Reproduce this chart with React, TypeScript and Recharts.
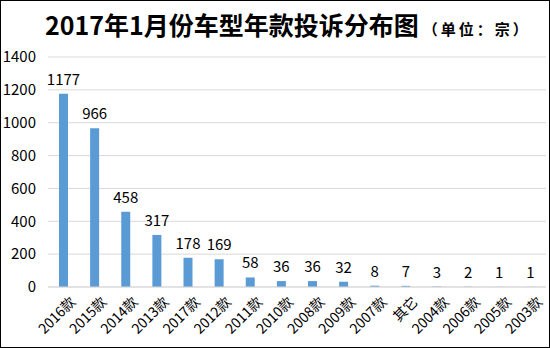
import { BarChart, Bar, XAxis, YAxis, CartesianGrid, LabelList } from 'recharts';

const categories = [
  '2016款', '2015款', '2014款', '2013款', '2017款', '2012款', '2011款', '2010款',
  '2008款', '2009款', '2007款', '其它', '2004款', '2006款', '2005款', '2003款',
];
const complaints = [1177, 966, 458, 317, 178, 169, 58, 36, 36, 32, 8, 7, 3, 2, 1, 1];
const yTicks = [0, 200, 400, 600, 800, 1000, 1200, 1400];

const data = categories.map((name, i) => ({ name, value: complaints[i] }));

const FONT = '"Noto Sans CJK SC", "Noto Sans", sans-serif';

const RotatedTick = (props: any) => {
  const { x, y, payload } = props;
  return (
    <g transform={`translate(${x + 5},${y})`}>
      <text
        x={0}
        y={0}
        dy={11}
        textAnchor="end"
        transform="rotate(-45)"
        fill="#000"
        fontSize={14}
        fontFamily={FONT}
      >
        {payload.value}
      </text>
    </g>
  );
};

export default function App() {
  return (
    <div
      style={{
        position: 'absolute',
        left: 0,
        top: 0,
        width: 550,
        height: 348,
        boxSizing: 'border-box',
        border: '1px solid #000',
        background: '#fff',
        fontFamily: FONT,
      }}
    >
      <div
        style={{
          position: 'absolute',
          left: 44,
          top: 5,
          whiteSpace: 'nowrap',
          color: '#000',
          fontWeight: 'bold',
        }}
      >
        <span style={{ fontSize: 25 }}>2017年1月份车型年款投诉分布图</span>
        <span style={{ fontSize: 15, marginLeft: 4, letterSpacing: 3 }}>（单位：宗）</span>
      </div>
      <div style={{ position: 'absolute', left: -1, top: -1 }}>
        <BarChart
          width={550}
          height={348}
          data={data}
          margin={{ top: 57, right: 4, left: 0, bottom: 0 }}
          barSize={9}
        >
          <CartesianGrid stroke="#d9d9d9" vertical={false} />
          <XAxis
            dataKey="name"
            interval={0}
            height={61}
            axisLine={{ stroke: '#d9d9d9' }}
            tickLine={false}
            tick={<RotatedTick />}
          />
          <YAxis
            width={48}
            domain={[0, 1400]}
            ticks={yTicks}
            axisLine={false}
            tickLine={false}
            tickMargin={6}
            tick={{ fill: '#000', fontSize: 15, fontFamily: FONT }}
          />
          <Bar dataKey="value" fill="#5b9bd5" isAnimationActive={false}>
            <LabelList
              dataKey="value"
              position="top"
              offset={9}
              fill="#000"
              fontSize={15}
              fontFamily={FONT}
            />
          </Bar>
        </BarChart>
      </div>
    </div>
  );
}
